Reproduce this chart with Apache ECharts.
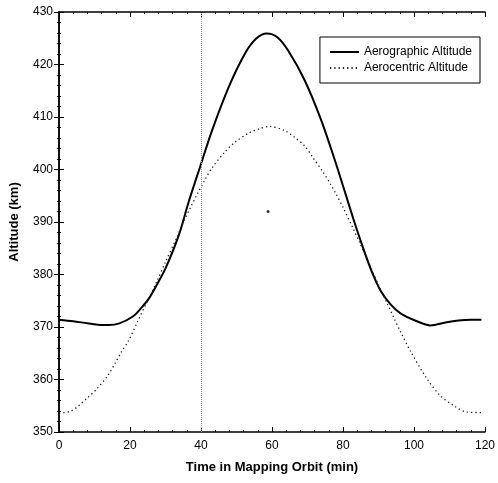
<!DOCTYPE html>
<html>
<head>
<meta charset="utf-8">
<script src="https://cdn.jsdelivr.net/npm/echarts@6/dist/echarts.min.js"></script>
<style>
  html, body { margin: 0; padding: 0; background: #fff; }
  #chart { width: 498px; height: 483px; }
</style>
</head>
<body>
<div id="chart"></div>
<script>
// time in mapping orbit (min) and altitude (km)
var timeGraphic = [0, 4, 8, 11.5, 14, 17, 20.8, 23, 25.4, 27.7, 30.1, 33.8, 36.6, 39.4, 43.1, 47.8, 52.4, 55.5, 58.5, 61.5, 64.5, 69.2, 73.8, 77.6, 80.6, 83.2, 85.9, 88.2, 90.6, 93.4, 96.2, 100.8, 104.6, 109.2, 112, 116, 119];
var altGraphic = [371.4, 371.1, 370.7, 370.4, 370.4, 370.7, 372, 373.5, 375.5, 378.2, 381.3, 387.6, 394, 399.8, 407.4, 415.7, 422.1, 424.9, 425.9, 425.2, 422.7, 417, 409.5, 402, 395.6, 390, 384.6, 380.4, 376.9, 374.3, 372.6, 371.1, 370.3, 370.9, 371.2, 371.4, 371.4];

var timeCentric = [0, 3, 5, 8, 10.5, 13.7, 15.8, 17.6, 19.6, 22.1, 24.9, 27.5, 30, 33.3, 35, 37, 39, 41, 43.1, 46.8, 49.6, 53.4, 56.6, 59.4, 63.6, 66.4, 69.2, 71.5, 74.3, 76.6, 78, 80, 82.7, 84.6, 87, 90, 92.5, 94.3, 96.2, 99, 103.6, 107.3, 111, 114.8, 119];
var altCentric = [353.6, 353.9, 354.7, 356.5, 358.1, 360.7, 363.1, 365.3, 367.4, 371, 374.9, 378.6, 382.4, 387.2, 389.9, 392.7, 395.4, 397.9, 400.3, 403.4, 405.2, 406.9, 407.8, 408.2, 407.4, 406.1, 404.5, 402.3, 399.6, 397.1, 395.4, 392.8, 389, 386.2, 382.6, 378, 374.4, 371.8, 369.1, 365.4, 360.2, 357, 355.1, 353.8, 353.7];

var strayDot = [[58.9, 392]];
var gridLineAt = 40;

function pairs(xs, ys) {
  var out = [];
  for (var i = 0; i < xs.length; i++) out.push([xs[i], ys[i]]);
  return out;
}

var chart = echarts.init(document.getElementById('chart'));
var font = 'Liberation Sans, Arial, sans-serif';

var baseX = {
  type: 'value', min: 0, max: 120, interval: 20,
  axisLine: { lineStyle: { color: '#000', width: 1.5 } },
  axisTick: { inside: true, length: 5, lineStyle: { color: '#000' } },
  minorTick: { show: true, splitNumber: 5, length: 2, lineStyle: { color: '#000' } },
  splitLine: { show: false }
};
var baseY = {
  type: 'value', min: 350, max: 430, interval: 10,
  axisLine: { lineStyle: { color: '#000', width: 1.5 } },
  axisTick: { inside: true, length: 5, lineStyle: { color: '#000' } },
  minorTick: { show: true, splitNumber: 5, length: 2, lineStyle: { color: '#000' } },
  splitLine: { show: false }
};

var option = {
  backgroundColor: '#fff',
  animation: false,
  textStyle: { fontFamily: font },
  grid: { left: 59, right: 9, top: 12, bottom: 51 },
  legend: {
    right: 18, top: 37,
    orient: 'vertical',
    itemWidth: 29, itemHeight: 12, itemGap: 4,
    padding: [9, 8, 9, 9],
    borderColor: '#000', borderWidth: 1,
    itemStyle: { opacity: 0 },
    textStyle: { fontSize: 12, color: '#000', fontFamily: font },
    data: ['Aerographic Altitude', 'Aerocentric Altitude']
  },
  xAxis: [
    Object.assign({}, baseX, {
      position: 'bottom',
      name: 'Time in Mapping Orbit (min)', nameLocation: 'middle', nameGap: 29,
      nameTextStyle: { fontSize: 13, fontWeight: 'bold', color: '#000' },
      axisLabel: { fontSize: 12, color: '#000', margin: 8 }
    }),
    Object.assign({}, baseX, { position: 'top', axisLabel: { show: false } })
  ],
  yAxis: [
    Object.assign({}, baseY, {
      position: 'left',
      name: 'Altitude (km)', nameLocation: 'middle', nameGap: 38,
      nameTextStyle: { fontSize: 13, fontWeight: 'bold', color: '#000' },
      axisLabel: { fontSize: 12, color: '#000', margin: 6 }
    }),
    Object.assign({}, baseY, { position: 'right', axisLabel: { show: false } })
  ],
  series: [
    {
      name: 'Aerographic Altitude', type: 'line', smooth: 0.3,
      symbol: 'none',
      lineStyle: { color: '#000', width: 2 },
      itemStyle: { color: '#000' },
      data: pairs(timeGraphic, altGraphic),
      markLine: {
        silent: true, symbol: 'none', label: { show: false },
        lineStyle: { color: '#999', type: 'dotted', width: 1 },
        data: [{ xAxis: gridLineAt }]
      }
    },
    {
      name: 'Aerocentric Altitude', type: 'line', smooth: 0.3,
      symbol: 'none',
      lineStyle: { color: '#222', width: 1.3, type: [1.3, 3] },
      itemStyle: { color: '#222' },
      data: pairs(timeCentric, altCentric)
    },
    {
      type: 'scatter', symbolSize: 3,
      itemStyle: { color: '#000' },
      data: strayDot
    }
  ]
};

chart.setOption(option);
</script>
</body>
</html>
